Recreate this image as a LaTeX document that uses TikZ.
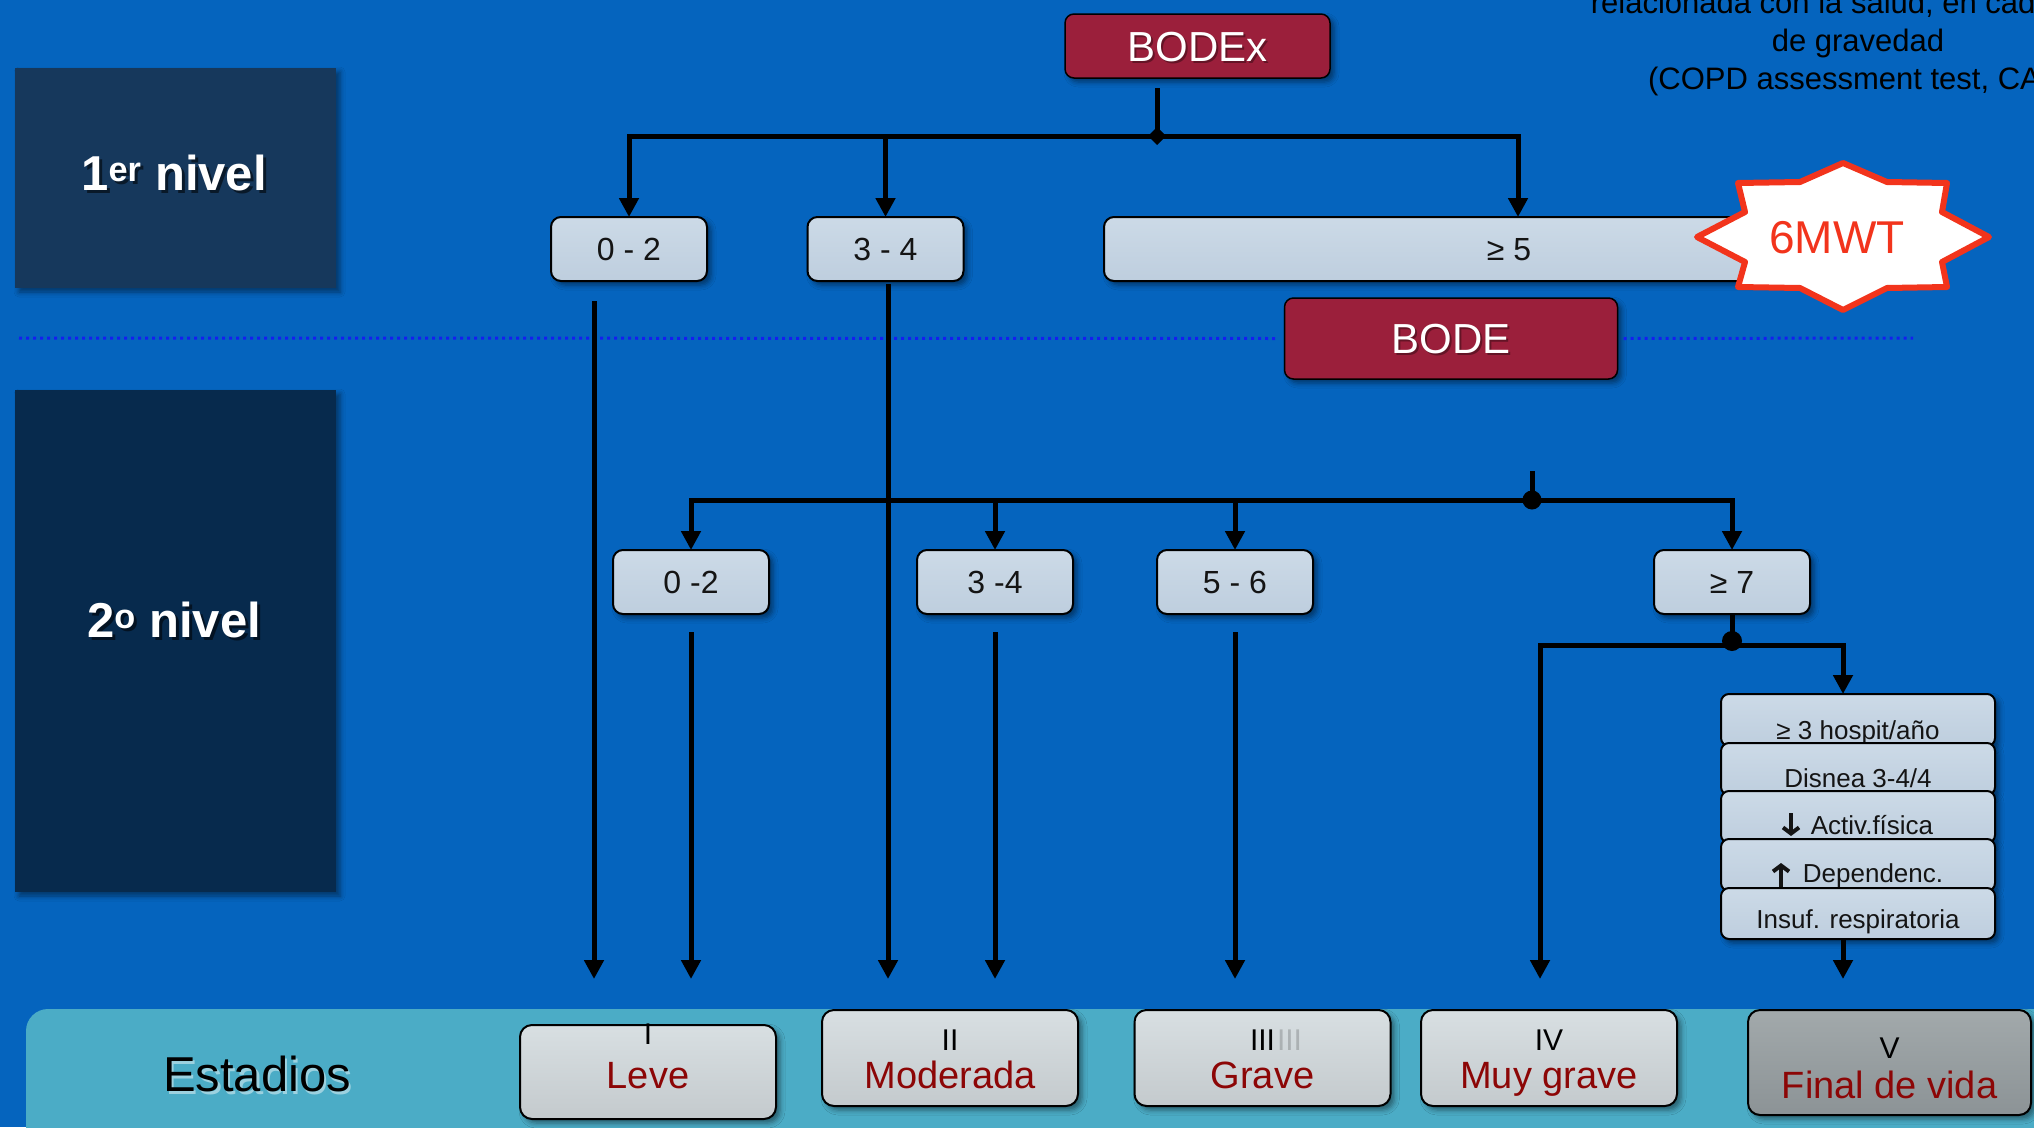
\documentclass[tikz,border=0pt]{standalone}
\usepackage{fontspec}
\setmainfont{Liberation Sans}
\usetikzlibrary{arrows.meta,calc,shadows.blur}

\definecolor{bg}{RGB}{5,100,190}
\definecolor{lvone}{RGB}{22,56,92}
\definecolor{lvtwo}{RGB}{7,42,77}
\definecolor{crimson}{RGB}{155,31,59}
\definecolor{boxtop}{RGB}{204,218,231}
\definecolor{boxbot}{RGB}{190,206,222}
\definecolor{stagetop}{RGB}{216,223,226}
\definecolor{stagebot}{RGB}{196,202,205}
\definecolor{endtop}{RGB}{162,169,171}
\definecolor{endbot}{RGB}{140,147,150}
\definecolor{band}{RGB}{75,172,198}
\definecolor{darkred}{RGB}{140,6,6}
\definecolor{starred}{RGB}{242,52,28}
\definecolor{dotblue}{RGB}{20,30,240}
\definecolor{ink}{RGB}{20,20,20}

\newcommand\fs[1]{\fontsize{#1}{#1}\selectfont}

\begin{document}
\begin{tikzpicture}[x=1pt,y=-1pt,
  base/.style={inner sep=0pt, outer sep=0pt, text depth=0pt},
  soft/.style={blur shadow={shadow xshift=4pt, shadow yshift=-4pt,
      shadow blur radius=5pt, shadow opacity=45}},
  conn/.style={line width=5pt, black},
  arr/.style={conn, -{Triangle[width=19pt,length=19pt]}},
  boldarrow/.style={ink, line width=4pt, line cap=butt,
      -{Straight Barb[length=6pt,width=16pt]}},
  dots/.style={dotblue, line width=3pt, dash pattern=on 3pt off 4pt},
  lvbox/.style={base, soft, minimum width=321pt},
  lvtxt/.style={base, text=white, font=\bfseries\fs{49}, text height=35pt},
  lvsh/.style={lvtxt, text=black, opacity=0.55},
  redbox/.style={base, draw=black, line width=1.5pt, fill=crimson,
      rounded corners=9pt, soft},
  redtxt/.style={base, text=white, font=\fs{42}, text height=30pt},
  redsh/.style={redtxt, text=black, opacity=0.35, xshift=2pt, yshift=-2pt},
  valbox/.style={base, draw=black, line width=2pt, rounded corners=10pt,
      top color=boxtop, bottom color=boxbot, soft, minimum height=64pt,
      minimum width=156pt, text=ink, font=\fs{32}, text height=23pt},
  stackbox/.style={base, draw=black, line width=2pt, rounded corners=8pt,
      top color=boxtop, bottom color=boxbot, minimum width=274pt,
      minimum height=52pt, soft},
  sttxt/.style={base, text=ink, font=\fs{26}, text height=18.6pt},
  stage/.style={base, draw=black, line width=2pt, rounded corners=12pt,
      top color=stagetop, bottom color=stagebot, minimum width=256pt,
      minimum height=96pt, soft},
  stnum/.style={base, text=black, font=\fs{30}, text height=21.5pt},
  stname/.style={base, text=darkred, font=\fs{38}, text height=27.2pt},
  cattxt/.style={inner sep=0pt, anchor=base, text=black, font=\fs{31}},
]
\useasboundingbox (0,0) rectangle (2034,1127);
\clip (0,0) rectangle (2034,1127);
\fill[bg] (0,0) rectangle (2034,1127);

% band of stages
\fill[band, rounded corners=22pt] (26,1009) rectangle (2080,1170);

% level labels on the left
\node[lvbox, fill=lvone, minimum height=220pt,
  label={[lvsh, xshift=1.5pt, yshift=2pt]center:1\textsuperscript{er} nivel},
  label={[lvtxt, xshift=-1.5pt, yshift=5pt]center:1\textsuperscript{er} nivel}]
  (lv1) at (175.5,178) {};
\node[lvbox, fill=lvtwo, minimum height=502pt,
  label={[lvsh, xshift=1.5pt, yshift=18pt]center:2\textsuperscript{o} nivel},
  label={[lvtxt, xshift=-1.5pt, yshift=21pt]center:2\textsuperscript{o} nivel}]
  (lv2) at (175.5,641) {};

% caption in the upper right corner
\node[cattxt] (cat1) at (1858,13) {relacionada con la salud, en cada nivel};
\node[cattxt] (cat2) at (1858,51) {de gravedad};
\node[cattxt] (cat3) at (1858,89) {(COPD assessment test, CAT)};

% first level
\node[redbox, minimum width=265pt, minimum height=64pt,
  label={[redsh]center:BODEx}, label={[redtxt]center:BODEx}]
  (bodex) at (1197.5,46) {};
\node[valbox] (a02) at (629,249) {0 - 2};
\node[valbox] (a34) at (885.5,249) {3 - 4};
\node[valbox, minimum width=810pt] (ge5) at (1509,249) {≥ 5};

% second level
\node[redbox, minimum width=333pt, minimum height=81pt,
  label={[redsh]center:BODE}, label={[redtxt]center:BODE}]
  (bode) at (1451,338.5) {};
\node[valbox] (b02) at (691,582) {0 -2};
\node[valbox] (b34) at (995,582) {3 -4};
\node[valbox] (b56) at (1235,582) {5 - 6};
\node[valbox] (b7) at (1732,582) {≥ 7};

% separator between the levels
\coordinate (dl) at (19,338);
\coordinate (dr) at (1913,338);
\draw[dots] (dl) -- ($(bode.west)+(-6,0)$);
\draw[dots] ($(bode.east)+(6,0)$) -- (dr);

% criteria stack
\node[stackbox, label={[sttxt, yshift=-10pt]center:≥ 3 hospit/año}] (st1) at (1858,720) {};
\node[stackbox, label={[sttxt, yshift=-9pt]center:Disnea 3-4/4}] (st2) at (1858,769) {};
\node[stackbox, label={[sttxt, yshift=-8pt]center:\hspace{28pt}Activ.física}] (st3) at (1858,817) {};
\node[stackbox, label={[sttxt, yshift=-8pt]center:\hspace{30pt}Dependenc.}] (st4) at (1858,865) {};
\node[stackbox, minimum height=51pt, label={[sttxt, yshift=-5.5pt]center:Insuf. respiratoria}] (st5) at (1858,913.5) {};
% heavy arrows in front of the texts
\draw[boldarrow] (1791,813) -- (1791,836);
\draw[boldarrow] (1781,887) -- (1781,863);

% stages
\node[base, font=\fs{49}, text height=35pt, text=white, opacity=0.45]
  (ests) at (259.5,1076.5) {Estadios};
\node[base, text=black, font=\fs{49}, text height=35pt] (est) at (257,1074) {Estadios};
\node[stage, minimum height=94pt,
  label={[stnum, yshift=38pt]center:I},
  label={[stname, yshift=-3pt]center:Leve}] (s1) at (648,1072) {};
\node[stage,
  label={[stnum, yshift=18pt]center:II},
  label={[stname, yshift=-17pt]center:Moderada}] (s2) at (950,1058) {};
\node[stage,
  label={[stnum, xshift=27pt, yshift=18pt, opacity=0.18]center:III},
  label={[stnum, yshift=18pt]center:III},
  label={[stname, yshift=-17pt]center:Grave}] (s3) at (1262.5,1058) {};
\node[stage,
  label={[stnum, yshift=18pt]center:IV},
  label={[stname, yshift=-17pt]center:Muy grave}] (s4) at (1549,1058) {};
\node[stage, minimum width=283pt, minimum height=105pt,
  top color=endtop, bottom color=endbot,
  label={[stnum, yshift=14.5pt]center:V},
  label={[stname, yshift=-22.5pt]center:Final de vida}] (s5) at (1889.5,1062.5) {};

% connectors of the first level
\coordinate (bx) at (1157,88);
\coordinate (j1) at (1157,136);
\draw[conn] (bx) -- (j1);
\draw[arr] (j1) -| (a02);
\draw[arr] (j1) -| (a34);
\draw[arr] (j1) -| ([xshift=9pt]ge5.north);
\fill (j1) +(-9,0) -- +(0,9) -- +(9,0) -- +(0,-9) -- cycle;

\coordinate (tA) at (594,979);
\coordinate (tB) at (888,979);
\draw[arr] ($(a02.south -| tA)+(0,20)$) -- (tA);
\draw[arr] ($(a34.south -| tB)+(0,3)$) -- (tB);

% connectors of the second level
\coordinate (cx) at (1532,471);
\coordinate (j2) at (1532,500);
\draw[conn] (cx) -- (j2);
\draw[arr] (j2) -| (b02);
\draw[arr] (j2) -| (b34);
\draw[arr] (j2) -| (b56);
\draw[arr] (j2) -| (b7);
\fill (j2) circle[radius=9.5pt];

\coordinate (tE) at (691,979);
\coordinate (tF) at (995,979);
\coordinate (tG) at (1235,979);
\draw[arr] ($(b02.south)+(0,18)$) -- (tE);
\draw[arr] ($(b34.south)+(0,18)$) -- (tF);
\draw[arr] ($(b56.south)+(0,18)$) -- (tG);

\coordinate (j3) at (1732,645);
\coordinate (tC) at (1540,979);
\coordinate (tD) at (1843,979);
\draw[conn] (b7.south) -- (j3);
\draw[arr] (j3) -| (tC);
\draw[arr] (j3) -| ([xshift=-15pt]st1.north);
\fill ($(j3)+(0,-4)$) circle[radius=10pt];
\draw[arr] ([xshift=-15pt]st5.south) -- (tD);

% 6MWT badge
\draw[starred, line width=6pt, line join=round, fill=white]
  (1843,163) -- (1887,182) -- (1947,183) -- (1942,212) -- (1989,237)
  -- (1942,262) -- (1947,287) -- (1887,288) -- (1843,310) -- (1800,288)
  -- (1738,287) -- (1745,262) -- (1697,237) -- (1745,212) -- (1738,183)
  -- (1800,182) -- cycle;
\node[base, text=starred, font=\fs{46}, text height=33pt] (mwt) at (1837,237) {6MWT};
\end{tikzpicture}
\end{document}
